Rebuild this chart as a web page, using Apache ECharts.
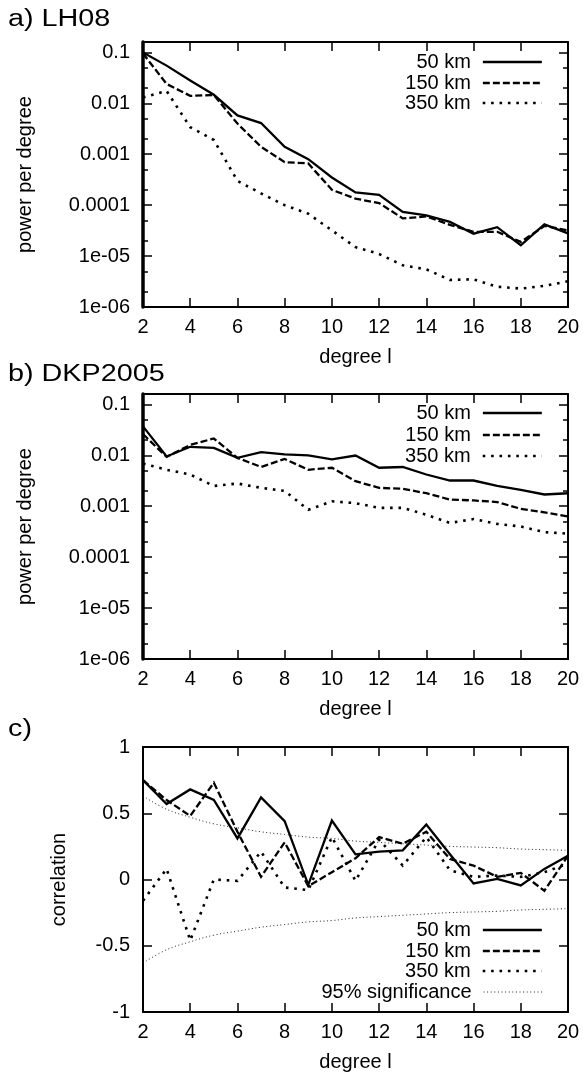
<!DOCTYPE html>
<html><head><meta charset="utf-8">
<script src="https://cdn.jsdelivr.net/npm/echarts@6/dist/echarts.min.js"></script>
<style>html,body{margin:0;padding:0;background:#fff}#c{width:584px;height:1079px}</style>
</head><body><div id="c"></div><script>
// ---------------- data ----------------
const degrees = [2,3,4,5,6,7,8,9,10,11,12,13,14,15,16,17,18,19,20];

// a) LH08 power per degree
const lh08_50  = [0.1, 0.055, 0.028, 0.0147, 0.0058, 0.0041, 0.0014, 0.0008, 0.00035, 0.000178, 0.00016, 0.000074, 0.000063, 0.000047, 0.0000275, 0.000037, 0.0000163, 0.000042, 0.000028];
const lh08_150 = [0.095, 0.024, 0.014, 0.0146, 0.004, 0.0014, 0.0007, 0.00066, 0.0002, 0.000134, 0.00011, 0.000055, 0.00006, 0.000041, 0.00003, 0.00003, 0.000019, 0.000039, 0.000032];
const lh08_350 = [0.013, 0.0175, 0.0034, 0.0019, 0.0003, 0.00017, 0.0001, 0.000068, 0.000032, 0.000015, 0.000011, 0.0000066, 0.0000055, 0.0000034, 0.0000035, 0.0000025, 0.0000023, 0.0000026, 0.0000032];

// b) DKP2005 power per degree
const dkp_50  = [0.037, 0.0095, 0.0147, 0.014, 0.0089, 0.0115, 0.0104, 0.01, 0.0083, 0.0099, 0.0057, 0.0059, 0.0042, 0.0032, 0.0032, 0.0025, 0.0021, 0.0017, 0.0018];
const dkp_150 = [0.026, 0.0093, 0.016, 0.0214, 0.0089, 0.0059, 0.0085, 0.0052, 0.0057, 0.0031, 0.0023, 0.0022, 0.0018, 0.00135, 0.0013, 0.00121, 0.00089, 0.00076, 0.00063];
const dkp_350 = [0.0069, 0.0052, 0.0042, 0.0025, 0.0028, 0.0023, 0.002, 0.00085, 0.00125, 0.00115, 0.00093, 0.00093, 0.00068, 0.00047, 0.00056, 0.00045, 0.0004, 0.00031, 0.00029];

// c) correlation
const corr_50  = [0.75, 0.57, 0.68, 0.60, 0.31, 0.62, 0.44, -0.04, 0.445, 0.19, 0.21, 0.22, 0.415, 0.19, -0.03, 0.005, -0.045, 0.08, 0.18];
const corr_150 = [0.75, 0.60, 0.48, 0.73, 0.36, 0.02, 0.28, -0.05, 0.055, 0.16, 0.32, 0.27, 0.36, 0.155, 0.105, 0.02, 0.05, -0.085, 0.18];
const corr_350 = [-0.16, 0.08, -0.46, 0.0, -0.01, 0.21, -0.06, -0.08, 0.32, -0.01, 0.30, 0.105, 0.32, 0.07, 0.02, 0.03, 0.02, 0.055, 0.12];
const sig_upper = [0.63, 0.53, 0.47, 0.42, 0.39, 0.36, 0.34, 0.32, 0.31, 0.29, 0.28, 0.27, 0.26, 0.25, 0.245, 0.24, 0.23, 0.225, 0.22];
const sig_lower = [-0.63, -0.53, -0.47, -0.42, -0.39, -0.36, -0.34, -0.32, -0.31, -0.29, -0.28, -0.27, -0.26, -0.25, -0.245, -0.24, -0.23, -0.225, -0.22];

// tick labels
const logTickValues = [1e-6, 1e-5, 1e-4, 1e-3, 1e-2, 1e-1];
const logTickLabels = ['1e-06', '1e-05', '0.0001', '0.001', '0.01', '0.1'];
const logMinorValues = [2e-6, 5e-6, 2e-5, 5e-5, 2e-4, 5e-4, 2e-3, 5e-3, 2e-2, 5e-2];
const corrTickValues = [-1, -0.5, 0, 0.5, 1];
const corrTickLabels = ['-1', '-0.5', '0', '0.5', '1'];
const seriesNames = ['50 km', '150 km', '350 km', '95% significance'];

// ---------------- styling ----------------
const FONT = 'Liberation Sans';
const txt = {fontSize: 20, fontFamily: FONT, color: '#000'};
const lineTypes = {
  '50 km': 'solid',
  '150 km': [7, 3],
  '350 km': [2.6, 5.8],
  '95% significance': [1, 2.6]
};
const lineWidths = {'50 km': 2.3, '150 km': 2.3, '350 km': 2.6, '95% significance': 1};

function logLabel(v) {
  for (let i = 0; i < logTickValues.length; i++) {
    if (Math.abs(Math.log10(v) - Math.log10(logTickValues[i])) < 1e-6) return logTickLabels[i];
  }
  return '';
}
function corrLabel(v) {
  for (let i = 0; i < corrTickValues.length; i++) {
    if (Math.abs(v - corrTickValues[i]) < 1e-9) return corrTickLabels[i];
  }
  return '';
}

const grids = [
  {left: 143, top: 42, width: 425, height: 265},
  {left: 143, top: 394, width: 425, height: 265},
  {left: 143, top: 747, width: 425, height: 265}
];

const xAxes = [];
grids.forEach((g, gi) => {
  xAxes.push({
    gridIndex: gi, type: 'value', min: 2, max: 20, interval: 2, position: 'bottom',
    axisLine: {onZero: false, lineStyle: {color: '#000', width: 2}},
    axisTick: {inside: true, length: 9, lineStyle: {color: '#000', width: 1.5}},
    axisLabel: Object.assign({margin: 10}, txt),
    splitLine: {show: false},
    name: 'degree l', nameLocation: 'middle', nameGap: 40,
    nameTextStyle: txt
  });
  xAxes.push({
    gridIndex: gi, type: 'value', min: 2, max: 20, interval: 2, position: 'top',
    axisLine: {onZero: false, lineStyle: {color: '#000', width: 2}},
    axisTick: {inside: true, length: 9, lineStyle: {color: '#000', width: 1.5}},
    axisLabel: {show: false},
    splitLine: {show: false}
  });
});

const yAxes = [];
function addLogAxes(gi, leftWidth) {
  const base = {gridIndex: gi, type: 'log', logBase: 10, min: 1e-6, max: 0.16, splitLine: {show: false}};
  yAxes.push(Object.assign({}, base, {
    position: 'left',
    axisLine: {show: true, onZero: false, lineStyle: {color: '#000', width: leftWidth}},
    axisTick: {inside: true, length: 9, customValues: logTickValues, lineStyle: {color: '#000', width: 1.5}},
    axisLabel: Object.assign({margin: 13, customValues: logTickValues, formatter: logLabel}, txt),
    name: 'power per degree', nameLocation: 'middle', nameGap: 108, nameRotate: 90,
    nameTextStyle: txt
  }));
  yAxes.push(Object.assign({}, base, {
    position: 'left',
    axisLine: {show: false},
    axisTick: {show: true, inside: true, length: 5, customValues: logMinorValues, lineStyle: {color: '#000', width: 1.5}},
    axisLabel: {show: false}
  }));
  yAxes.push(Object.assign({}, base, {
    position: 'right',
    axisLine: {show: true, onZero: false, lineStyle: {color: '#000', width: 2}},
    axisTick: {inside: true, length: 9, customValues: logTickValues, lineStyle: {color: '#000', width: 1.5}},
    axisLabel: {show: false}
  }));
  yAxes.push(Object.assign({}, base, {
    position: 'right',
    axisLine: {show: false},
    axisTick: {show: true, inside: true, length: 5, customValues: logMinorValues, lineStyle: {color: '#000', width: 1.5}},
    axisLabel: {show: false}
  }));
}
addLogAxes(0, 3.5);
addLogAxes(1, 3.5);
yAxes.push({
  gridIndex: 2, type: 'value', min: -1, max: 1, interval: 0.5, position: 'left',
  axisLine: {show: true, onZero: false, lineStyle: {color: '#000', width: 2}},
  axisTick: {inside: true, length: 9, lineStyle: {color: '#000', width: 1.5}},
  axisLabel: Object.assign({margin: 13, formatter: corrLabel}, txt),
  splitLine: {show: false},
  name: 'correlation', nameLocation: 'middle', nameGap: 74, nameRotate: 90,
  nameTextStyle: txt
});
yAxes.push({
  gridIndex: 2, type: 'value', min: -1, max: 1, interval: 0.5, position: 'right',
  axisLine: {show: true, onZero: false, lineStyle: {color: '#000', width: 2}},
  axisTick: {inside: true, length: 9, lineStyle: {color: '#000', width: 1.5}},
  axisLabel: {show: false},
  splitLine: {show: false}
});

function mk(name, vals, xi, yi) {
  const thin = name === '95% significance';
  return {
    type: 'line', name: name, xAxisIndex: xi, yAxisIndex: yi,
    data: degrees.map((d, i) => [d, vals[i]]),
    symbol: 'none', smooth: thin ? 0.4 : false, silent: true, animation: false,
    clip: true,
    itemStyle: {color: '#000'},
    lineStyle: {color: thin ? '#222' : '#000', width: lineWidths[name], type: lineTypes[name], cap: 'butt', join: 'miter'}
  };
}

const series = [
  mk('50 km', lh08_50, 0, 0), mk('150 km', lh08_150, 0, 0), mk('350 km', lh08_350, 0, 0),
  mk('50 km', dkp_50, 2, 4), mk('150 km', dkp_150, 2, 4), mk('350 km', dkp_350, 2, 4),
  mk('95% significance', sig_upper, 4, 8), mk('95% significance', sig_lower, 4, 8),
  mk('50 km', corr_50, 4, 8), mk('150 km', corr_150, 4, 8), mk('350 km', corr_350, 4, 8)
];

const legendRows = [
  {tops: [52, 73, 93], names: seriesNames.slice(0, 3)},
  {tops: [403, 425, 446], names: seriesNames.slice(0, 3)},
  {tops: [920, 941, 961, 982], names: seriesNames}
];
const legends = [];
legendRows.forEach(r => {
  r.names.forEach((n, i) => {
    const thin = n === '95% significance';
    legends.push({
      data: [{
        name: n,
        itemStyle: {color: 'rgba(0,0,0,0)', borderColor: 'rgba(0,0,0,0)', borderWidth: 0, opacity: 0},
        lineStyle: {width: lineWidths[n], color: thin ? '#222' : '#000', type: lineTypes[n], opacity: 1}
      }],
      right: 41, top: r.tops[i], align: 'right', orient: 'horizontal',
      itemWidth: 59, itemHeight: 20, padding: 0, itemGap: 0, selectedMode: false,
      textStyle: Object.assign({padding: [0, 7, 0, 0]}, txt)
    });
  });
});

const titles = [
  {text: 'a) LH08', y: 8},
  {text: 'b) DKP2005', y: 363},
  {text: 'c)', y: 718}
];
const graphic = titles.map(t => ({
  type: 'text', x: 8, y: t.y, scaleX: 1.25,
  style: {text: t.text, fontSize: 23, fontFamily: FONT, fill: '#000', textVerticalAlign: 'top'}
}));

const chart = echarts.init(document.getElementById('c'), null, {renderer: 'canvas'});
chart.setOption({
  backgroundColor: '#fff',
  animation: false,
  grid: grids,
  xAxis: xAxes,
  yAxis: yAxes,
  legend: legends,
  series: series,
  graphic: graphic
});
</script></body></html>
